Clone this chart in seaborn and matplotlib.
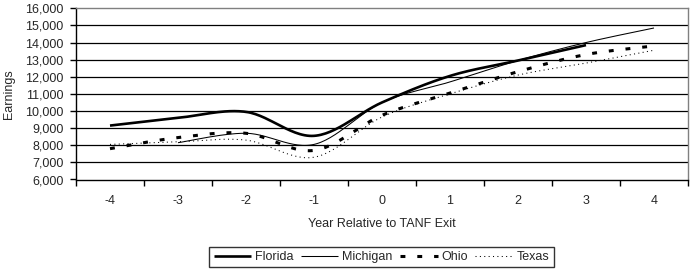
import matplotlib
matplotlib.use("Agg")
import matplotlib.pyplot as plt
from matplotlib.lines import Line2D
from matplotlib.ticker import FuncFormatter
import numpy as np
import pandas as pd
import seaborn as sns

# ---- data ----
YEARS = [-4, -3, -2, -1, 0, 1, 2, 3, 4]
FLORIDA = [9150, 9600, 9950, 8550, 10500, 12050, 12950, 13850, np.nan]
MICHIGAN = [np.nan, 8150, 8700, 8050, 10500, 11700, 12950, 14000, 14850]
OHIO = [7800, 8450, 8700, 7700, 9750, 11050, 12300, 13300, 13800]
TEXAS = [8050, 8200, 8300, 7300, 9650, 11000, 12100, 12800, 13550]
Y_TICKS = list(range(6000, 16001, 1000))

STYLES = {
    "Florida": dict(lw=1.9, ls="-"),
    "Michigan": dict(lw=0.75, ls="-"),
    "Ohio": dict(lw=2.2, ls=(0, (1.6, 3.9))),
    "Texas": dict(lw=0.75, ls=(0, (1, 3.2))),
}


def smooth(x, y, n=30):
    """Excel-style smoothed line (Catmull-Rom / Bezier through the points)."""
    x = np.asarray(x, float)
    y = np.asarray(y, float)
    ok = ~np.isnan(y)
    x, y = x[ok], y[ok]
    px = np.concatenate([[x[0]], x, [x[-1]]])
    py = np.concatenate([[y[0]], y, [y[-1]]])
    xs, ys = [], []
    t = np.linspace(0, 1, n)
    for i in range(1, len(px) - 2):
        p0 = np.array([px[i], py[i]])
        p3 = np.array([px[i + 1], py[i + 1]])
        p1 = p0 + (np.array([px[i + 1], py[i + 1]]) - np.array([px[i - 1], py[i - 1]])) / 6
        p2 = p3 - (np.array([px[i + 2], py[i + 2]]) - np.array([px[i], py[i]])) / 6
        b = ((1 - t) ** 3)[:, None] * p0 + (3 * (1 - t) ** 2 * t)[:, None] * p1 \
            + (3 * (1 - t) * t ** 2)[:, None] * p2 + (t ** 3)[:, None] * p3
        xs.append(b[:, 0])
        ys.append(b[:, 1])
    return np.concatenate(xs), np.concatenate(ys)


sns.set_style("white")
plt.rcParams["font.family"] = ["Liberation Sans", "DejaVu Sans"]
plt.rcParams["font.size"] = 9
plt.rcParams["axes.unicode_minus"] = False

fig = plt.figure(figsize=(6.91, 2.71), dpi=100)
ax = fig.add_axes([76 / 691, 1 - 179.5 / 271, 612 / 691, 171.2 / 271])

series = {"Florida": FLORIDA, "Michigan": MICHIGAN, "Ohio": OHIO, "Texas": TEXAS}
for name, vals in series.items():
    sx, sy = smooth(YEARS, vals)
    df = pd.DataFrame({"year": sx, "earnings": sy})
    sns.lineplot(data=df, x="year", y="earnings", ax=ax, color="black",
                 sort=False, estimator=None, linewidth=STYLES[name]["lw"],
                 linestyle=STYLES[name]["ls"], solid_capstyle="butt",
                 dash_capstyle="butt")

ax.set_xlim(-4.5, 4.5)
ax.set_ylim(6000, 16000)
ax.set_yticks(Y_TICKS)
ax.yaxis.set_major_formatter(FuncFormatter(lambda v, p: f"{int(v):,}"))
ax.set_xticks(YEARS)
ax.set_xticks(np.arange(-4.5, 4.6, 1), minor=True)
ax.tick_params(axis="x", which="major", length=0, pad=11, labelsize=9)
ax.tick_params(axis="x", which="minor", length=4, width=1, direction="out",
               color="black", bottom=True)
ax.tick_params(axis="y", length=4, width=1, direction="out", color="black",
               left=True, pad=5, labelsize=9)

for v in Y_TICKS[1:-1]:
    ax.axhline(v, color="black", lw=0.9, zorder=0)

for side in ["left", "bottom"]:
    ax.spines[side].set_color("black")
    ax.spines[side].set_linewidth(1)
for side in ["top", "right"]:
    ax.spines[side].set_color("#808080")
    ax.spines[side].set_linewidth(1)

ax.set_ylabel("Earnings", fontsize=9)
ax.yaxis.set_label_coords(-0.0997, 0.5)
ax.set_xlabel("Year Relative to TANF Exit", fontsize=9)
ax.xaxis.set_label_coords(0.5, -0.222)

handles = [Line2D([], [], color="black", lw=STYLES[n]["lw"], ls=STYLES[n]["ls"],
                  solid_capstyle="butt", dash_capstyle="butt") for n in series]
leg = fig.legend(handles, list(series), loc="center", ncol=4,
                 bbox_to_anchor=(381.5 / 691, 1 - 257 / 271), frameon=True,
                 fancybox=False, edgecolor="black", fontsize=9,
                 handlelength=3, handletextpad=0.3, columnspacing=0.6,
                 borderpad=0.35, borderaxespad=0)
leg.get_frame().set_linewidth(1)

fig.savefig("out.png", dpi=100)
